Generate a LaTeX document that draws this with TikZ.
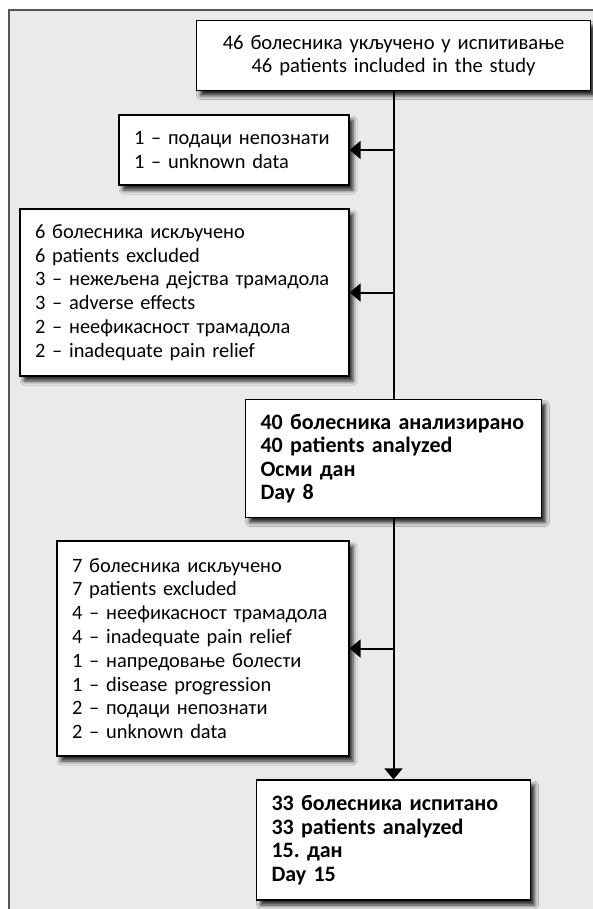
\documentclass[tikz,border=0pt]{standalone}
\usepackage{fontspec}
\setmainfont{Carlito}
\usetikzlibrary{arrows.meta,shadows.blur}
\definecolor{framegray}{RGB}{85,85,87}
\definecolor{bggray}{RGB}{234,234,236}

\begin{document}
\begin{tikzpicture}[x=1pt, y=-1pt,
box/.style = {% flowchart boxes
    draw=black, line width=1.2pt, fill=white,
    inner xsep=15pt, inner ysep=0pt,
    blur shadow={shadow xshift=4pt, shadow yshift=-5pt,
                 shadow opacity=85, shadow blur radius=4pt},
    font=\fontsize{20.4}{23.8}\selectfont,
            },
lbox/.style 2 args = {% text left, width and height
    box, align=left, text width=#1-30pt, minimum height=#2,
            },
bbox/.style 2 args = {% bold boxes on the trunk
    lbox={#1}{#2}, font=\fontsize{22}{23.5}\selectfont\bfseries,
            },
arr/.style = {% trunk and branches
    line width=2pt, -{Triangle[width=18pt,length=11pt]},
            },                        ]

  \useasboundingbox (0,0) rectangle (593,909);
  \draw[framegray,line width=2pt,fill=bggray] (9,10) rectangle (620,940);

  % main column
  \node[box, align=center, text width=364pt, minimum height=70pt,
        font=\fontsize{20.6}{23}\selectfont] (start) at (393.5,55.7)
       {46 болесника укључено у испитивање\\46 patients included in the study};
  \node[bbox={296pt}{118pt}] (day8) at (393.5,458.5)
       {40 болесника анализирано\\40 patients analyzed\\Осми дан\\Day 8};
  \node[bbox={274pt}{120pt}] (day15) at (393.5,840)
       {33 болесника испитано\\33 patients analyzed\\15.\ дан\\Day 15};

  % excluded
  \node[lbox={230pt}{70pt}] (unk1) at (234,150)
       {1 – подаци непознати\\1 – unknown data};
  \node[lbox={329pt}{167pt}] (excl1) at (184.5,292.5)
       {6 болесника искључено\\6 patients excluded\\
        3 – нежељена дејства трамадола\\3 – adverse effects\\
        2 – неефикасност трамадола\\2 – inadequate pain relief};
  \node[lbox={292pt}{215pt}] (excl2) at (203,648.5)
       {7 болесника искључено\\7 patients excluded\\
        4 – неефикасност трамадола\\4 – inadequate pain relief\\
        1 – напредовање болести\\1 – disease progression\\
        2 – подаци непознати\\2 – unknown data};

  \draw[line width=2pt] (start) -- (day8);
  \draw[arr] (day8) -- (day15);

  \coordinate (j1) at (start.south |- unk1.east);
  \coordinate (j2) at (start.south |- excl1.east);
  \coordinate (j3) at (start.south |- excl2.east);
  \draw[arr] (j1) -- (unk1);
  \draw[arr] (j2) -- (excl1);
  \draw[arr] (j3) -- (excl2);

\end{tikzpicture}
\end{document}
